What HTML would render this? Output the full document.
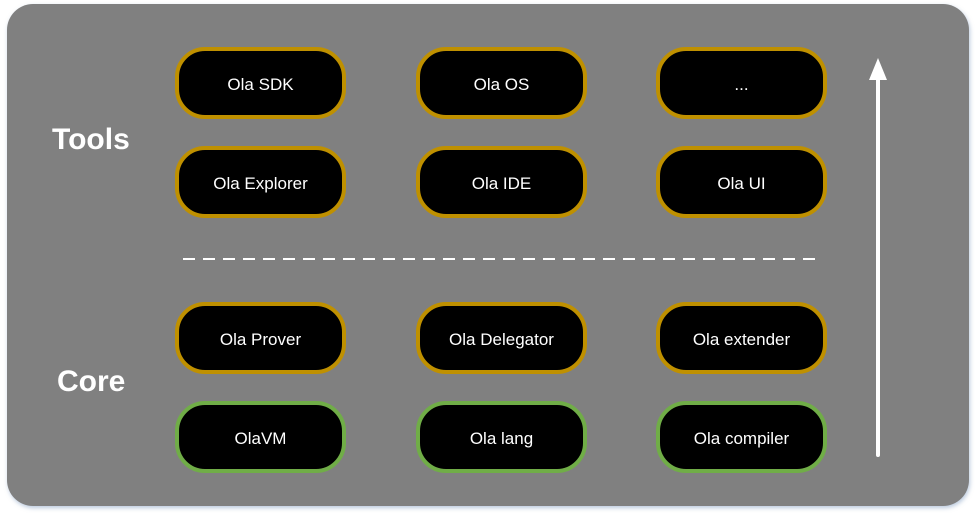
<!DOCTYPE html>
<html><head><style>
body{margin:0;width:977px;height:518px;background:#fff;position:relative;overflow:hidden;font-family:"Liberation Sans",sans-serif}
.panel{position:absolute;left:7px;top:4px;width:962px;height:502px;background:#808080;border-radius:26px;box-shadow:1px 2px 4px rgba(120,150,190,.5)}
.n{position:absolute;width:163px;height:64px;background:#000;border:4px solid #bf9000;border-radius:30px;color:#fff;font-size:17px;display:flex;align-items:center;justify-content:center;box-sizing:content-box;padding-top:3px;height:61px}
.g{border-color:#70ad47}
.lbl{position:absolute;color:#fff;font-weight:bold;font-size:30px}
</style></head><body>
<div class="panel"></div>
<div class="lbl" style="left:52px;top:123px">Tools</div>
<div class="lbl" style="left:57px;top:365px">Core</div>
<div class="n" style="left:175px;top:47px">Ola SDK</div>
<div class="n" style="left:416px;top:47px">Ola OS</div>
<div class="n" style="left:656px;top:47px">...</div>
<div class="n" style="left:175px;top:146px">Ola Explorer</div>
<div class="n" style="left:416px;top:146px">Ola IDE</div>
<div class="n" style="left:656px;top:146px">Ola UI</div>
<div class="n" style="left:175px;top:302px">Ola Prover</div>
<div class="n" style="left:416px;top:302px">Ola Delegator</div>
<div class="n" style="left:656px;top:302px">Ola extender</div>
<div class="n g" style="left:175px;top:401px">OlaVM</div>
<div class="n g" style="left:416px;top:401px">Ola lang</div>
<div class="n g" style="left:656px;top:401px">Ola compiler</div>
<svg style="position:absolute;left:0;top:0" width="977" height="518">
<line x1="183" y1="259" x2="822" y2="259" stroke="#fff" stroke-width="2" stroke-dasharray="12,8"/>
<line x1="878" y1="455" x2="878" y2="75" stroke="#fff" stroke-width="4" stroke-linecap="round"/>
<polygon points="878,58 869,80 887,80" fill="#fff"/>
</svg>
</body></html>
